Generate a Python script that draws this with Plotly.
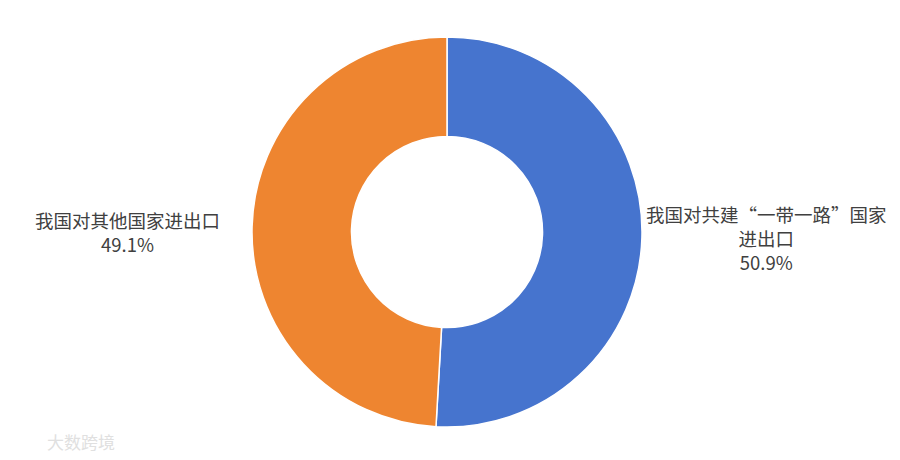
import math
import plotly.graph_objects as go

categories = ["我国对共建“一带一路”国家<br>进出口", "我国对其他国家进出口"]
shares = [50.9, 49.1]
colors = ["#4674CE", "#EE8530"]

W, H = 900, 460
# pie geometry (figure pixels)
cx_px, cy_px, R_px = 439, 224, 195
cx, cy = cx_px / W, 1 - cy_px / H
dx, dy = R_px / W, R_px / H

fig = go.Figure(go.Pie(
    labels=categories,
    values=shares,
    hole=0.49,
    sort=False,
    direction="clockwise",
    rotation=0,
    marker=dict(colors=colors, line=dict(color="white", width=1.5)),
    textinfo="none",
    hoverinfo="label+percent",
    domain=dict(x=[cx - dx, cx + dx], y=[cy - dy, cy + dy]),
    showlegend=False,
))

# labels placed at the middle angle of each slice
label_rx, label_ry = 320, 110
total = sum(shares)
start = 0.0
for lab, v in zip(categories, shares):
    mid = start + v / total * 180.0
    start += v / total * 360.0
    th = math.radians(mid)
    fig.add_annotation(
        text=f"{lab}<br>{v:.1f}%",
        x=cx + label_rx * math.sin(th) / W,
        y=cy + label_ry * math.cos(th) / H,
        yshift=-3,
        xref="paper", yref="paper", showarrow=False,
        xanchor="center", yanchor="middle", align="center",
        font=dict(family="Noto Sans CJK SC", size=18.5, color="#404040"),
    )

fig.add_annotation(
    text="大数跨境", x=37 / W, y=1 - 433 / H, xref="paper", yref="paper",
    showarrow=False, font=dict(family="Noto Sans CJK SC", size=17, color="#e0e0e0"),
    xanchor="left", yanchor="middle",
)

fig.update_layout(
    width=W, height=H,
    margin=dict(l=0, r=0, t=0, b=0),
    paper_bgcolor="white", plot_bgcolor="white",
)

fig.write_html("out.html")
